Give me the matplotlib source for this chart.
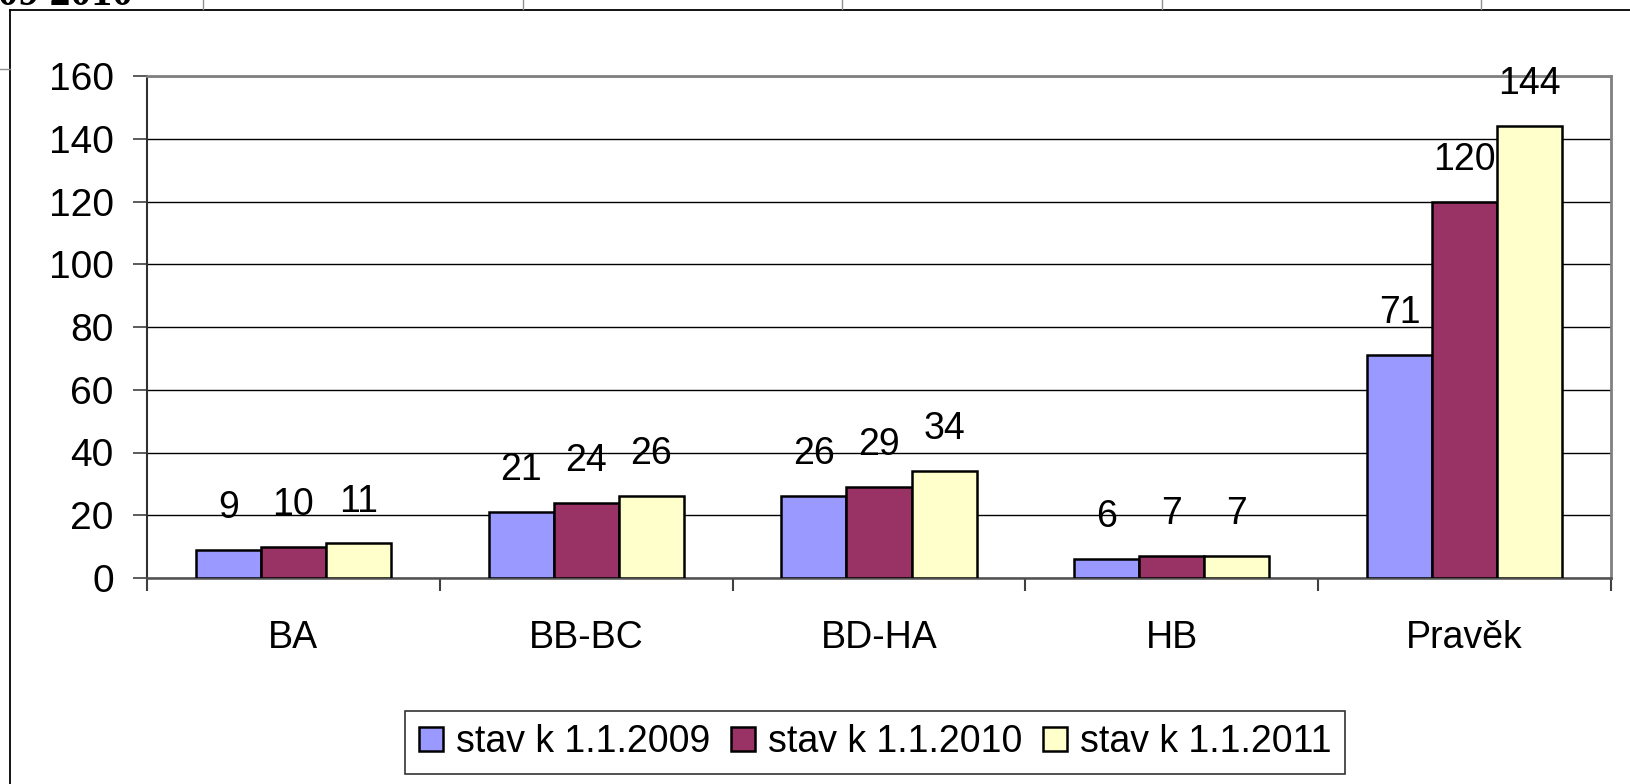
import matplotlib.pyplot as plt
import numpy as np
from matplotlib.lines import Line2D

plt.rcParams['font.family'] = ['Liberation Sans', 'DejaVu Sans']

categories = ['BA', 'BB-BC', 'BD-HA', 'HB', 'Pravěk']
series_names = ['stav k 1.1.2009', 'stav k 1.1.2010', 'stav k 1.1.2011']
v2009 = [9, 21, 26, 6, 71]
v2010 = [10, 24, 29, 7, 120]
v2011 = [11, 26, 34, 7, 144]
colors = ['#9999FF', '#993366', '#FFFFCC']
yticks = [0, 20, 40, 60, 80, 100, 120, 140, 160]

W, H = 1630, 784
fig = plt.figure(figsize=(W / 100, H / 100), dpi=100)
ax = fig.add_axes([147 / W, 1 - 578 / H, (1611 - 147) / W, (578 - 76) / H])

x = np.arange(len(categories))
bw = 0.222
for i, (vals, name) in enumerate(zip([v2009, v2010, v2011], series_names)):
    bars = ax.bar(x + (i - 1) * bw, vals, width=bw, color=colors[i],
                  edgecolor='black', linewidth=1.8, label=name, zorder=3)
    for b, v in zip(bars, vals):
        ax.annotate(str(v), (b.get_x() + b.get_width() / 2, v),
                    xytext=(0, 23), textcoords='offset points',
                    ha='center', va='baseline', fontsize=27, zorder=4)

ax.set_xlim(-0.5, len(categories) - 0.5)
ax.set_ylim(0, 160)
ax.set_yticks(yticks)
ax.yaxis.grid(True, color='black', linewidth=1.0, zorder=0)
ax.tick_params(axis='y', labelsize=28, length=10, width=1.2, color='#404040', pad=14)

# labels at category centres, tick marks at the boundaries
ax.set_xticks(x)
ax.set_xticklabels(categories)
ax.tick_params(axis='x', which='major', length=0, labelsize=27, pad=30)
ax.set_xticks(np.arange(-0.5, len(categories)), minor=True)
ax.tick_params(axis='x', which='minor', length=9, width=1.5, color='#404040', direction='out')

ax.spines['top'].set_color('#808080')
ax.spines['top'].set_linewidth(2)
ax.spines['right'].set_color('#808080')
ax.spines['right'].set_linewidth(2)
ax.spines['left'].set_color('#303030')
ax.spines['left'].set_linewidth(1.5)
ax.spines['bottom'].set_color('#505050')
ax.spines['bottom'].set_linewidth(1.8)

leg = fig.legend(loc='center', bbox_to_anchor=(875 / W, 1 - 742 / H), ncol=3,
                 fontsize=27, frameon=True, fancybox=False, borderpad=0.36,
                 handlelength=0.64, handleheight=0.62, handletextpad=0.35,
                 columnspacing=0.55, borderaxespad=0)
leg.get_frame().set_edgecolor('black')
leg.get_frame().set_linewidth(1.2)

# chart frame and bits of the surrounding table
fig.add_artist(Line2D([10 / W, 1], [1 - 10 / H, 1 - 10 / H], color='black', linewidth=1.3))
fig.add_artist(Line2D([10 / W, 10 / W], [0, 1 - 10 / H], color='black', linewidth=1.3))
fig.add_artist(Line2D([0, 10 / W], [1 - 69 / H, 1 - 69 / H], color='#909090', linewidth=1))
for xp in [203, 523, 842, 1162, 1481]:
    fig.add_artist(Line2D([xp / W, xp / W], [1 - 9 / H, 1], color='#909090', linewidth=1))
fig.text(133 / W, 1 - 5 / H, '2009 2010', ha='right', va='baseline', fontsize=30,
         fontweight='bold', family='Liberation Serif')

fig.savefig('out.png', dpi=100)
